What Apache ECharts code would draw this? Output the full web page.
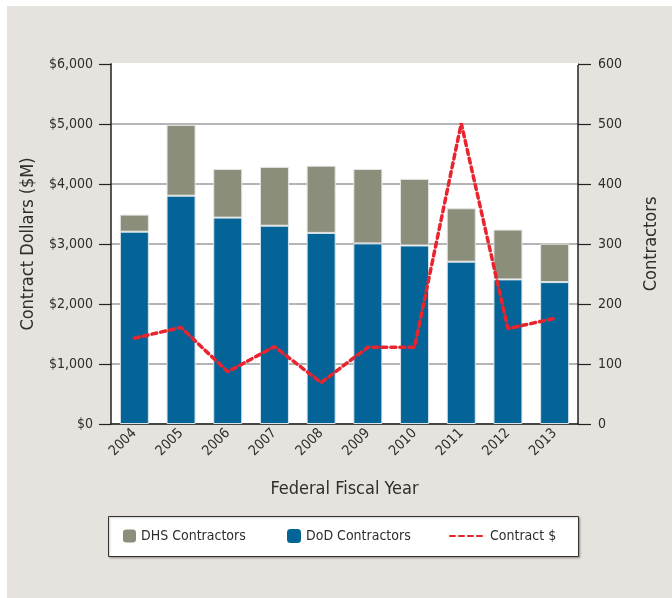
<!DOCTYPE html>
<html lang="en">
<head>
    <meta charset="UTF-8">
    <title>Contract Dollars and Contractors</title>
    <style>
        html, body { margin: 0; padding: 0; background: #fff; }
    </style>
</head>
<body>
    <div id="main" style="width:672px; height:598px;"></div>
    <script src="https://cdn.jsdelivr.net/npm/echarts@6/dist/echarts.min.js"></script>
    <script>
        // data
        var years = ['2004', '2005', '2006', '2007', '2008', '2009', '2010', '2011', '2012', '2013'];
        var dodValues = [3205, 3805, 3440, 3305, 3185, 3010, 2975, 2705, 2410, 2365];
        var dhsValues = [285, 1180, 810, 980, 1120, 1240, 1110, 890, 830, 640];
        var contractValues = [143, 161, 87, 129, 69, 128, 128, 501, 159, 176];
        var leftTicks = [0, 1000, 2000, 3000, 4000, 5000, 6000];

        var font = "'Liberation Sans Narrow', 'DejaVu Sans Condensed', 'Roboto', sans-serif";
        var textColor = '#2e2e2e';

        var legendText = { fontFamily: font, fontSize: 14, color: textColor };

        var myChart = echarts.init(document.getElementById('main'));
        myChart.setOption({
            backgroundColor: '#e6e2dd',
            textStyle: { fontFamily: font, color: textColor },
            graphic: [
                // white strips at top/left edge
                { type: 'rect', left: 0, top: 0, shape: { width: 672, height: 6 }, style: { fill: '#fff' } },
                { type: 'rect', left: 0, top: 0, shape: { width: 7, height: 598 }, style: { fill: '#fff' } },
                // cover the top split line (reference has none there)
                { type: 'rect', left: 112, top: 63, z: 1, shape: { width: 466, height: 2 }, style: { fill: '#fff' } },
                // legend box
                {
                    type: 'rect', left: 108, top: 516, z: -1,
                    shape: { width: 470, height: 40 },
                    style: { fill: '#fff', stroke: '#333', lineWidth: 1, shadowColor: 'rgba(0,0,0,0.25)', shadowBlur: 2, shadowOffsetX: 1, shadowOffsetY: 1 }
                }
            ],
            grid: {
                left: 111, right: 94, top: 64, bottom: 174,
                show: true, backgroundColor: '#fff', borderWidth: 0
            },
            legend: [
                {
                    data: ['DHS Contractors'], left: 123, top: 529, padding: 0,
                    itemWidth: 13, itemHeight: 13, itemGap: 0,
                    itemStyle: { borderWidth: 0 },
                    textStyle: legendText
                },
                {
                    data: ['DoD Contractors'], left: 287, top: 529, padding: 0,
                    itemWidth: 14, itemHeight: 14, itemGap: 0,
                    itemStyle: { borderWidth: 0 },
                    textStyle: legendText
                },
                {
                    data: ['Contract $'], left: 449, top: 529, padding: 0,
                    itemWidth: 35, itemHeight: 14, itemGap: 0,
                    itemStyle: { opacity: 0 },
                    textStyle: legendText
                }
            ],
            xAxis: {
                type: 'category',
                data: years,
                boundaryGap: true,
                name: 'Federal Fiscal Year',
                nameLocation: 'middle',
                nameGap: 56,
                nameTextStyle: { fontFamily: font, fontSize: 18, color: textColor },
                axisLine: { show: true, lineStyle: { color: '#222', width: 1.5 } },
                axisTick: { show: false },
                axisLabel: { rotate: 45, fontSize: 14, color: textColor, fontFamily: font, margin: 7 }
            },
            yAxis: [
                {
                    type: 'value',
                    min: leftTicks[0], max: leftTicks[leftTicks.length - 1], interval: 1000,
                    name: 'Contract Dollars ($M)',
                    nameLocation: 'middle',
                    nameRotate: 90,
                    nameGap: 74,
                    nameTextStyle: { fontFamily: font, fontSize: 18, color: textColor },
                    axisLine: { show: true, lineStyle: { color: '#222', width: 1.5 } },
                    axisTick: { show: true, length: 12, lineStyle: { color: '#222', width: 1.2 } },
                    axisLabel: {
                        fontSize: 14, color: textColor, fontFamily: font, margin: 18,
                        formatter: function (v) { return '$' + v.toLocaleString('en-US'); }
                    },
                    splitLine: { show: true, lineStyle: { color: '#9d9d9d', width: 1.5 } }
                },
                {
                    type: 'value',
                    min: 0, max: 600, interval: 100,
                    name: 'Contractors',
                    nameLocation: 'middle',
                    nameRotate: 90,
                    nameGap: 64,
                    nameTextStyle: { fontFamily: font, fontSize: 18, color: textColor },
                    axisLine: { show: true, lineStyle: { color: '#222', width: 1.5 } },
                    axisTick: { show: true, length: 13, lineStyle: { color: '#222', width: 1.2 } },
                    axisLabel: { fontSize: 14, color: textColor, fontFamily: font, margin: 20 },
                    splitLine: { show: false }
                }
            ],
            series: [
                {
                    name: 'DoD Contractors',
                    type: 'bar',
                    stack: 'total',
                    barWidth: 29,
                    data: dodValues,
                    itemStyle: { color: '#046497', borderColor: '#d8e4ea', borderWidth: 1 }
                },
                {
                    name: 'DHS Contractors',
                    type: 'bar',
                    stack: 'total',
                    barWidth: 29,
                    data: dhsValues,
                    itemStyle: { color: '#8c8e7c', borderColor: '#e4e4e0', borderWidth: 1 }
                },
                {
                    name: 'Contract $',
                    type: 'line',
                    yAxisIndex: 1,
                    data: contractValues,
                    symbol: 'none',
                    showSymbol: false,
                    z: 5,
                    lineStyle: { color: '#e8242e', width: 3.5, type: [5, 4], cap: 'round' },
                    itemStyle: { color: '#e8242e' }
                }
            ]
        });
    </script>
</body>
</html>
